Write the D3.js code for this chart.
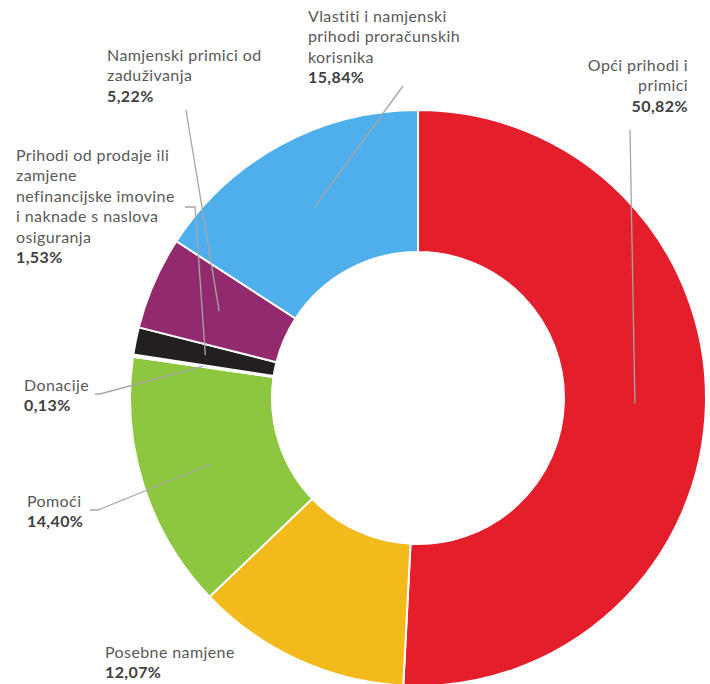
<!DOCTYPE html>
<html>
<head>
<meta charset="utf-8">
<script src="https://cdn.jsdelivr.net/npm/d3@7"></script>
<style>
  body { margin: 0; background: #fff; }
  text { font-family: Lato, "Open Sans", sans-serif; }
</style>
</head>
<body>
<div id="chart"></div>
<script>
// data (clockwise from 12 o'clock)
var categories = [
    'Opći prihodi i primici',
    'Posebne namjene',
    'Pomoći',
    'Donacije',
    'Prihodi od prodaje ili zamjene nefinancijske imovine i naknade s naslova osiguranja',
    'Namjenski primici od zaduživanja',
    'Vlastiti i namjenski prihodi proračunskih korisnika'
];
var shares = [50.82, 12.07, 14.40, 0.13, 1.53, 5.22, 15.84];
var shareLabels = ['50,82%', '12,07%', '14,40%', '0,13%', '1,53%', '5,22%', '15,84%'];

// how the label text is broken into lines
var labelLines = [
    ['Opći prihodi i', 'primici'],
    ['Posebne namjene'],
    ['Pomoći'],
    ['Donacije'],
    ['Prihodi od prodaje ili', 'zamjene', 'nefinancijske imovine', 'i naknade s naslova', 'osiguranja'],
    ['Namjenski primici od', 'zaduživanja'],
    ['Vlastiti i namjenski', 'prihodi proračunskih', 'korisnika']
];

var colors = ['#e41e2b', '#f2ba1b', '#8dc63f', '#ffffff', '#231f20', '#942a6e', '#4faeec'];

// set the area for the SVG element
const svgWidth = 710;
const svgHeight = 684;

var cx = 418, cy = 398;
var outerR = 288, innerR = 146;
var lineH = 20.4;

// label placement: x, first baseline, anchor, leader end points (null = no leader)
var labelPos = [
    { x: 688, y: 71, anchor: 'end', leader: [[630, 130]] },
    { x: 105, y: 658, anchor: 'start', leader: null },
    { x: 27, y: 507, anchor: 'start', leader: [[90, 510], [98, 510]] },
    { x: 24, y: 391, anchor: 'start', leader: [[95, 394], [100, 394]] },
    { x: 16, y: 161, anchor: 'start', leader: [[185, 207], [195, 207]] },
    { x: 107, y: 61, anchor: 'start', leader: [[186, 110]] },
    { x: 308, y: 22, anchor: 'start', leader: [[403, 86]] }
];

var svg = d3.select('#chart')
    .append('svg')
    .attr('width', svgWidth)
    .attr('height', svgHeight);

var chartGroup = svg.append('g')
    .attr('transform', `translate(${cx}, ${cy})`);

var pie = d3.pie()
    .sort(null)
    .value(d => d);

var arc = d3.arc()
    .innerRadius(innerR)
    .outerRadius(outerR);

var arcs = pie(shares);

// slices
chartGroup.selectAll('path.slice')
    .data(arcs)
    .enter()
    .append('path')
    .attr('class', 'slice')
    .attr('d', arc)
    .attr('fill', (d, i) => colors[i])
    .attr('stroke', '#ffffff')
    .attr('stroke-width', 2)
    .attr('stroke-linejoin', 'round');

// leader lines from slice centroid to label
var line = d3.line();
arcs.forEach(function(d, i) {
    var p = labelPos[i];
    if (!p.leader) return;
    var c = arc.centroid(d);
    var pts = p.leader.map(q => [q[0] - cx, q[1] - cy]);
    pts.push(c);
    chartGroup.append('path')
        .attr('d', line(pts))
        .attr('fill', 'none')
        .attr('stroke', '#a6a6a6')
        .attr('stroke-width', 1.3);
});

// labels
labelPos.forEach(function(p, i) {
    var t = svg.append('text')
        .attr('x', p.x)
        .attr('y', p.y)
        .attr('text-anchor', p.anchor)
        .style('font-size', '16px')
        .style('letter-spacing', '0.4px');
    labelLines[i].forEach(function(s, j) {
        t.append('tspan')
            .attr('x', p.x)
            .attr('dy', j === 0 ? 0 : lineH)
            .attr('fill', '#595959')
            .text(s);
    });
    t.append('tspan')
        .attr('x', p.x)
        .attr('dy', lineH)
        .attr('fill', '#404040')
        .style('font-weight', 'bold')
        .text(shareLabels[i]);
});
</script>
</body>
</html>
